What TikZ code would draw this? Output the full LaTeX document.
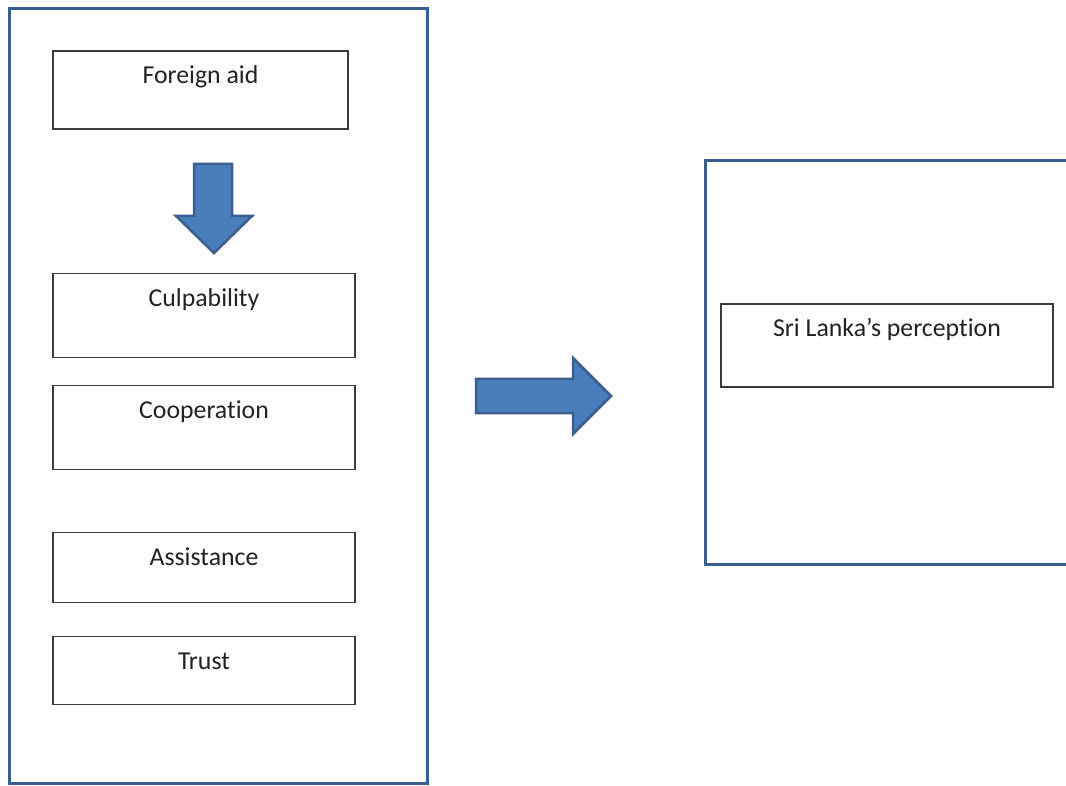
\documentclass[tikz,border=0pt]{standalone}
\usepackage{fontspec}
\setmainfont[Ligatures={NoCommon}]{Carlito}
\definecolor{framecol}{HTML}{3A5F8E}
\definecolor{arrfill}{HTML}{4A7EBB}
\definecolor{arrline}{HTML}{3A5F8E}
\definecolor{boxline}{HTML}{3A3A3A}
\definecolor{txtcol}{HTML}{222222}
\newcommand{\nolig}{\kern0pt}
\tikzset{
  framebox/.style={draw=framecol, line width=3pt, inner sep=0pt, outer sep=0pt, anchor=north west},
  itembox/.style={draw=boxline, line width=1.3pt, inner sep=0pt, outer sep=0pt, anchor=north west},
  toplabel/.style={label={[anchor=base, inner sep=0pt, yshift=-33pt, text=txtcol, font=\fontsize{25.8}{30}\selectfont]north:#1}},
  blockarrow/.style={draw=arrline, fill=arrfill, line width=2.5pt, line join=miter}
}
\begin{document}
\begin{tikzpicture}[x=1pt,y=-1pt]
\useasboundingbox (0,0) rectangle (1066,786);
\fill[white] (0,0) rectangle (1066,786);
\clip (0,0) rectangle (1066,786);
% left frame
\node[framebox, minimum width=418pt, minimum height=774pt] (left) at (9,9) {};
\node[itembox, minimum width=295pt, minimum height=78pt, toplabel={Foreign aid}] (aid) at (53,51) {};
\node[itembox, minimum width=302pt, minimum height=84pt, toplabel={Culpability}] (culp) at (53,273.5) {};
\node[itembox, minimum width=302pt, minimum height=84pt, toplabel={Cooperat\nolig ion}] (coop) at (53,385.5) {};
\node[itembox, minimum width=302pt, minimum height=70pt, toplabel={Assistance}] (assist) at (53,532.5) {};
\node[itembox, minimum width=302pt, minimum height=68pt, toplabel={Trust}] (trust) at (53,636.5) {};
% down block arrow
\draw[blockarrow] (194,164) -- (232,164) -- (232,216) -- (252,216) -- (214,253) -- (176,216) -- (194,216) -- cycle;
% right block arrow
\draw[blockarrow] (476,379) -- (573,379) -- (573,358) -- (611,396) -- (573,434) -- (573,413) -- (476,413) -- cycle;
% right frame
\node[framebox, minimum width=400pt, minimum height=404pt] (right) at (705,160.5) {};
\node[itembox, minimum width=332pt, minimum height=83pt, toplabel={Sri Lanka’s percept\nolig ion}] (perc) at (721,304) {};
\end{tikzpicture}
\end{document}
